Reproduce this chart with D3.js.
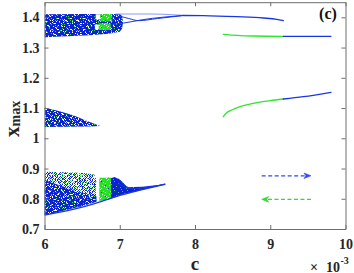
<!DOCTYPE html>
<html><head><meta charset="utf-8">
<script src="https://cdn.jsdelivr.net/npm/d3@7"></script>
<style>html,body{margin:0;padding:0;background:#fff;}svg{display:block;}</style>
</head><body>
<script>
// ================= DATA (c in units of 1e-3, x_max) =================
const xTicks = [6, 7, 8, 9, 10];
const xTickLabels = ["6", "7", "8", "9", "10"];
const yTicks = [0.7, 0.8, 0.9, 1.0, 1.1, 1.2, 1.3, 1.4];
const yTickLabels = ["0.7", "0.8", "0.9", "1", "1.1", "1.2", "1.3", "1.4"];
const xDomain = [6, 10];
const yDomain = [0.7, 1.45];

// chaotic regions (outlines of the dense point clouds)
const upperBand = [[6.0,1.410],[6.5,1.411],[7.0,1.411],[7.03,1.404],[7.045,1.385],[7.03,1.362],[7.0,1.352],[6.85,1.346],[6.6,1.341],[6.3,1.337],[6.0,1.334]];
const upperGreenTop = [[6.74,1.411],[6.90,1.411],[6.90,1.386],[6.74,1.386]];
const upperGreenBottom = [[6.72,1.380],[6.88,1.380],[6.88,1.358],[6.72,1.358]];
const upperGapTop = [[6.68,1.410],[6.74,1.410],[6.74,1.393],[6.68,1.393]];
const upperGapBottom = [[6.67,1.376],[6.725,1.376],[6.725,1.360],[6.67,1.360]];
const middleCloud = [[6.0,1.1015],[6.2,1.089],[6.38,1.076],[6.6,1.054],[6.74,1.041],[6.6,1.039],[6.3,1.038],[6.0,1.037]];
const lowerCloud = [[6.0,0.889],[6.3,0.888],[6.55,0.884],[6.66,0.880],[6.69,0.862],[6.68,0.830],[6.69,0.792],[6.5,0.776],[6.25,0.761],[6.0,0.746]];
const lowerCloudMid = [[6.0,0.862],[6.2,0.845],[6.45,0.822],[6.69,0.808],[6.69,0.792],[6.5,0.776],[6.25,0.761],[6.0,0.746]];
const lowerCloudDense = [[6.0,0.835],[6.2,0.818],[6.45,0.800],[6.69,0.795],[6.69,0.790],[6.5,0.776],[6.25,0.761],[6.0,0.746]];
const lowerGreen = [[6.728,0.8696],[6.884,0.8696],[6.884,0.799],[6.728,0.793]];
const lowerBlueBlock = [[6.884,0.868],[6.93,0.872],[6.977,0.866],[6.977,0.808],[6.884,0.800]];
const lowerFan = [[6.977,0.868],[7.04,0.855],[7.10,0.838],[7.3,0.840],[7.6,0.848],[7.3,0.830],[7.1,0.818],[6.977,0.810]];

// branches (lines)
const lensTop = [[6.95,1.411],[7.4,1.4112],[7.845,1.4065]];
const lensMid = [[7.0,1.404],[7.12,1.396],[7.25,1.389],[7.5,1.396],[7.845,1.406]];
const lensLow = [[6.92,1.377],[7.05,1.381],[7.3,1.392],[7.845,1.406]];
const upperBranch = [[7.845,1.406],[8.11,1.4055],[8.554,1.402],[8.908,1.3977],[9.086,1.3934],[9.174,1.3888]];
const lowerEdge = [[6.0,0.746],[6.5,0.772],[6.74,0.790],[7.0,0.811],[7.3,0.830],[7.6,0.848]];
const fanLine1 = [[6.98,0.852],[7.15,0.833],[7.4,0.839],[7.6,0.848]];
const fanLine2 = [[7.0,0.862],[7.06,0.846],[7.12,0.836]];
const p2UpperGreen = [[8.376,1.3439],[8.554,1.3405],[8.775,1.3383],[9.174,1.3373]];
const p2UpperBlue = [[9.174,1.3373],[9.5,1.3373],[9.807,1.3373]];
const p2LowerGreen = [[8.376,1.0714],[8.421,1.0846],[8.488,1.0935],[8.598,1.1045],[8.775,1.1157],[8.997,1.1243],[9.174,1.1299]];
const p2LowerBlue = [[9.174,1.1299],[9.44,1.1376],[9.807,1.1521]];

// sweep-direction arrows
const arrowForward = {from:[8.886,0.876], to:[9.541,0.876]};
const arrowBackward = {from:[9.541,0.798], to:[8.886,0.798]};

// ================= STYLE =================
const W = 354, H = 273;
const X0 = 44.5, X1 = 345.5, Y0 = 2.2, Y1 = 229;
const BLUE = "#0b22d2", GREEN = "#26e026", WHITE = "#ffffff", SPECKG = "#3ccf4a";
const LBLUE = "#1a35e8", LGREEN = "#2ee62e", FAINT = "#8c9cf2";
const FONT = "'Liberation Serif','Times New Roman',serif";
// speckle textures: [tile width, tile height, colour, cells]
const speckles = {
  w1: [11, 7, WHITE, [[1,0],[6,2],[3,4],[9,5],[8,1],[0,6]]],
  g1: [13, 9, SPECKG, [[4,0],[10,1],[1,3],[7,4],[12,6],[3,7],[9,8],[5,2]]],
  w2: [7, 6, WHITE, [[0,0],[3,1],[5,3],[1,4],[6,5],[2,2]]],
  g2: [11, 9, SPECKG, [[2,0],[7,1],[4,3],[9,4],[0,6],[6,7],[10,8],[3,5],[8,2],[1,8]]],
  b3: [5, 4, BLUE, [[0,0],[2,0],[4,1],[1,1],[3,2],[0,2],[2,3],[4,3]]],
  b3b: [17, 13, BLUE, [[3,1],[9,2],[14,4],[6,6],[1,8],[11,9],[16,11],[7,12],[4,10],[12,0]]],
  g3: [9, 7, GREEN, [[1,0],[5,0],[8,1],[3,2],[6,3],[0,4],[4,4],[7,5],[2,6],[8,6],[5,6]]],
  w3: [13, 11, WHITE, [[2,1],[3,1],[9,3],[10,4],[5,7],[6,7],[0,9],[11,9],[7,10]]],
  w4: [7, 9, WHITE, [[2,0],[5,2],[0,3],[4,5],[6,6],[1,7],[3,8]]],
  b4: [13, 11, BLUE, [[4,1],[10,5],[1,9],[7,7]]],
  g5: [17, 11, SPECKG, [[2,1],[11,2],[6,4],[15,5],[0,7],[9,8],[13,10],[4,9]]]
};
const textures = {
  dense: [BLUE, ["w1", "g1", "w3", "g5"]],
  mid: [BLUE, ["w2", "g2", "w3"]],
  mixed: [WHITE, ["b3", "b3b", "g3", "w3"]],
  green: [GREEN, ["w4", "b4"]],
  solid: [BLUE, ["g1"]]
};

const svg = d3.select("body").append("svg").attr("width", W).attr("height", H);
const defs = svg.append("defs");
Object.entries(speckles).forEach(([id, [tw, th, col, cells]]) => {
  const p = defs.append("pattern").attr("id", "sp-" + id).attr("patternUnits", "userSpaceOnUse")
    .attr("width", tw).attr("height", th);
  cells.forEach(([cx, cy]) => p.append("rect").attr("x", cx).attr("y", cy).attr("width", 1).attr("height", 1)
    .attr("fill", col).attr("shape-rendering", "crispEdges"));
});
defs.append("clipPath").attr("id", "plotclip").append("rect")
  .attr("x", X0).attr("y", Y0).attr("width", X1 - X0).attr("height", Y1 - Y0);

const x = d3.scaleLinear().domain(xDomain).range([X0, X1]);
const y = d3.scaleLinear().domain(yDomain).range([Y1, Y0]);

const plot = svg.append("g").attr("clip-path", "url(#plotclip)");
const poly = d3.line().x(d => x(d[0])).y(d => y(d[1])).curve(d3.curveLinearClosed);
const curve = d3.line().x(d => x(d[0])).y(d => y(d[1])).curve(d3.curveMonotoneX);

function region(pts, tex) {
  const d = poly(pts);
  if (tex === "white") { plot.append("path").attr("d", d).attr("fill", WHITE); return; }
  const [base, layers] = textures[tex];
  plot.append("path").attr("d", d).attr("fill", base);
  layers.forEach(l => plot.append("path").attr("d", d).attr("fill", `url(#sp-${l})`));
}
function branch(pts, color, w) {
  plot.append("path").attr("d", curve(pts)).attr("fill", "none").attr("stroke", color)
    .attr("stroke-width", w || 1.2).attr("stroke-linecap", "round");
}

// upper chaotic band
region(upperBand, "dense");
region(upperGapTop, "white");
region(upperGapBottom, "white");
region(upperGreenTop, "green");
region(upperGreenBottom, "green");
branch(lensTop, FAINT, 1.1);
branch(lensMid, LBLUE, 1.0);
branch(lensLow, LBLUE, 1.0);
branch(upperBranch, LBLUE, 1.3);

// middle chaotic band
region(middleCloud, "mid");

// lower chaotic band
region(lowerCloud, "mixed");
region(lowerCloudMid, "mid");
region(lowerCloudDense, "dense");
region(lowerGreen, "green");
region(lowerBlueBlock, "solid");
region(lowerFan, "solid");
branch(fanLine1, LBLUE, 1.0);
branch(fanLine2, LBLUE, 1.0);
branch(lowerEdge, LBLUE, 1.3);

// period-2 branches
branch(p2UpperGreen, LGREEN, 1.3);
branch(p2UpperBlue, LBLUE, 1.3);
branch(p2LowerGreen, LGREEN, 1.3);
branch(p2LowerBlue, LBLUE, 1.3);

// arrows
function arrow(a, color) {
  const x1 = x(a.from[0]), y1 = y(a.from[1]), x2 = x(a.to[0]), y2 = y(a.to[1]);
  const dir = Math.sign(x2 - x1);
  svg.append("line").attr("x1", x1).attr("y1", y1).attr("x2", x2 - dir * 5).attr("y2", y2)
    .attr("stroke", color).attr("stroke-width", 1.2).attr("stroke-dasharray", "4,2.5");
  svg.append("path").attr("d", `M${x2},${y2}L${x2 - dir * 7},${y2 - 2.8}L${x2 - dir * 5},${y2}L${x2 - dir * 7},${y2 + 2.8}Z`)
    .attr("fill", color).attr("stroke", color).attr("stroke-width", 0.6);
}
arrow(arrowForward, "#3448ee");
arrow(arrowBackward, "#2fdc2f");

// axes
function styleAxis(g) {
  g.select(".domain").attr("stroke", "#6e6e6e").attr("stroke-width", 1).attr("fill", "none");
  g.selectAll(".tick line").attr("stroke", "#6e6e6e").attr("stroke-width", 1);
  g.selectAll(".tick text").attr("font-family", FONT).attr("font-weight", "bold")
    .attr("font-size", 14).attr("fill", "#262626");
}
svg.append("g").attr("transform", `translate(0,${Y1})`)
  .call(d3.axisBottom(x).tickValues(xTicks).tickFormat((d, i) => xTickLabels[i]).tickSizeInner(-4).tickSizeOuter(0).tickPadding(10))
  .call(styleAxis);
svg.append("g").attr("transform", `translate(0,${Y0})`)
  .call(d3.axisTop(x).tickValues(xTicks).tickFormat("").tickSizeInner(-4).tickSizeOuter(0))
  .call(styleAxis);
svg.append("g").attr("transform", `translate(${X0},0)`)
  .call(d3.axisLeft(y).tickValues(yTicks).tickFormat((d, i) => yTickLabels[i]).tickSizeInner(-4).tickSizeOuter(0).tickPadding(5))
  .call(styleAxis);
svg.append("g").attr("transform", `translate(${X1},0)`)
  .call(d3.axisRight(y).tickValues(yTicks).tickFormat("").tickSizeInner(-4).tickSizeOuter(0))
  .call(styleAxis);

// labels
svg.append("text").attr("x", (X0 + X1) / 2).attr("y", 270).attr("text-anchor", "middle")
  .attr("font-family", FONT).attr("font-weight", "bold").attr("font-size", 19).attr("fill", "#262626").text("c");
const yl = svg.append("text").attr("transform", "translate(19,137) rotate(-90)")
  .attr("font-family", FONT).attr("font-weight", "bold").attr("fill", "#262626");
yl.append("tspan").attr("font-size", 21).text("x");
yl.append("tspan").attr("font-size", 14).attr("dy", 0.5).text("max");
svg.append("text").attr("x", 328).attr("y", 19).attr("text-anchor", "middle")
  .attr("font-family", FONT).attr("font-weight", "bold").attr("font-size", 16).attr("fill", "#111").text("(c)");
svg.append("text").attr("x", 310).attr("y", 271.5).attr("font-family", FONT).attr("font-weight", "bold")
  .attr("font-size", 14).attr("fill", "#262626").text("\u00d7");
svg.append("text").attr("x", 340).attr("y", 271.5).attr("text-anchor", "end")
  .attr("font-family", FONT).attr("font-weight", "bold").attr("font-size", 14).attr("fill", "#262626").text("10");
svg.append("text").attr("x", 340.5).attr("y", 264).attr("font-family", FONT).attr("font-weight", "bold")
  .attr("font-size", 10).attr("fill", "#262626").text("-3");
</script>
</body></html>
